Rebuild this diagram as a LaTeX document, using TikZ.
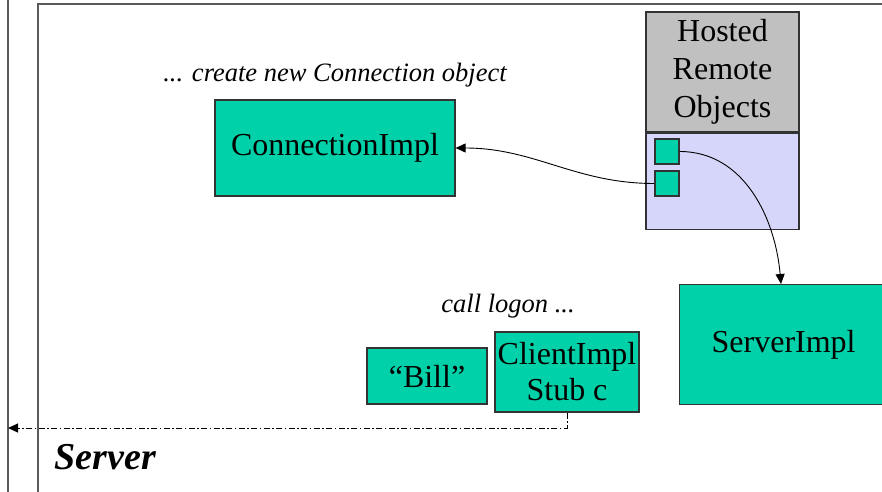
\documentclass[tikz,border=0pt]{standalone}
\usepackage{fontspec}
\setmainfont{Liberation Serif}
\usepackage{xcolor}
\usepackage{tikz}
\usetikzlibrary{arrows.meta}

\definecolor{objgreen}{HTML}{00D1A8}
\definecolor{hostgray}{HTML}{C0C0C0}
\definecolor{hostblue}{HTML}{D6D6FA}
\definecolor{framegray}{HTML}{5A5A5A}

\begin{document}
\begin{tikzpicture}[x=1pt,y=-1pt,
  obj/.style={draw=black!80,fill=objgreen,line width=1.2pt,inner sep=0pt,
    font=\fontsize{32}{38}\selectfont,align=center},
  slot/.style={draw=black!80,fill=objgreen,line width=1.2pt,inner sep=0pt,
    minimum width=24,minimum height=25},
  note/.style={font=\fontsize{26.5}{30}\selectfont\itshape},
  link/.style={line width=0.9pt,-{Triangle[length=10pt,width=9pt]}}]
\useasboundingbox (0,0) rectangle (882,491);
\draw [framegray,line width=1.2pt] (8,-10) -- (8,500);
\draw [framegray,line width=2pt] (38,520) -- (38,4) -- (900,4);
\node [note] (create) at (335,75) {... create new Connection object};
\node [obj,minimum width=240,minimum height=96] (conn) at (335,148) {ConnectionImpl};
\node [obj,fill=hostgray,minimum width=153,minimum height=120] (hosted) at (722.5,72)
  {Hosted\\Remote\\Objects};
\node [obj,fill=hostblue,minimum width=153,minimum height=96,anchor=north] (table)
  at (hosted.south) {};
\node [slot] (slota) at (667,151.5) {};
\node [slot] (slotb) at (667,183.5) {};
\node [obj,minimum width=232,minimum height=120,anchor=north west] (server)
  at (679,284) {\hspace*{-24pt}ServerImpl};
\node [note] (logon) at (508,306) {call logon ...};
\node [obj,minimum width=120,minimum height=56] (bill) at (427,376) {``Bill''};
\node [obj,font=\fontsize{32}{36}\selectfont,minimum width=144,minimum height=80]
  (client) at (567,372) {ClientImpl\\Stub c};
\node [font=\fontsize{38}{42}\selectfont\bfseries\itshape,anchor=west] (srv)
  at (51,457) {Server};
\coordinate (edge) at (8,428);
\draw [link] (slotb.west) to[out=180,in=0] (conn.east);
\draw [link] (slota.east) to[out=0,in=95] (server.north west -| 781,0);
\draw [line width=1pt,dash pattern=on 6pt off 2.5pt on 1.5pt off 2.5pt,
  -{Triangle[length=10pt,width=9pt]}] (client.south) |- (edge);
\end{tikzpicture}
\end{document}
